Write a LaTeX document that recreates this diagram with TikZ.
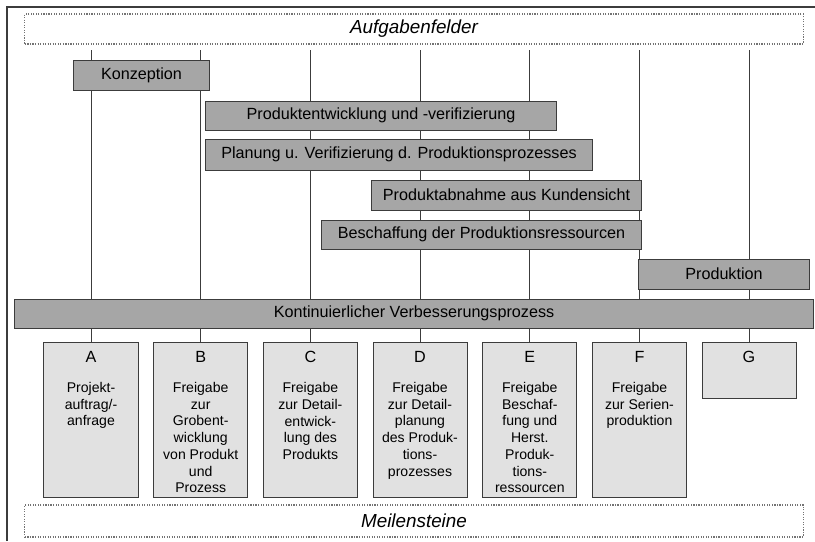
\documentclass[tikz,border=0pt]{standalone}
\usepackage{fontspec}
\setmainfont{Liberation Sans}
\usepackage{tikz}
\usetikzlibrary{positioning}
\definecolor{bargray}{RGB}{166,166,166}
\definecolor{boxgray}{RGB}{225,225,225}
\definecolor{linegray}{RGB}{60,60,60}

\begin{document}
\begin{tikzpicture}[
    x=0.025cm, y=-0.025cm,
    field/.style={rectangle, draw=black!55, densely dotted, line width=0.8pt, minimum width=19.45cm, minimum height=0.75cm, font=\fontsize{13.4}{15}\selectfont\itshape},
    bar/.style={rectangle, draw=linegray, fill=bargray, line width=0.7pt, minimum height=0.75cm, inner sep=0pt, font=\fontsize{11.5}{13}\selectfont},
    milestone/.style={rectangle, draw=linegray, fill=boxgray, line width=0.7pt, minimum width=2.35cm, anchor=north},
    mstext/.style={align=center, inner sep=0pt, font=\fontsize{10}{11.9}\selectfont},
    track/.style={draw=linegray, line width=0.7pt}
]
\useasboundingbox (0,0) rectangle (815,541);

% Frame
\draw[linegray, line width=0.8pt] (7,541) -- (7,7) -- (815,7);

% Milestones
\node[milestone, minimum height=3.875cm] (msA) at (91,342) {};
\node[milestone, minimum height=3.875cm] (msB) at (200.7,342) {};
\node[milestone, minimum height=3.875cm] (msC) at (310.4,342) {};
\node[milestone, minimum height=3.875cm] (msD) at (420,342) {};
\node[milestone, minimum height=3.875cm] (msE) at (529.8,342) {};
\node[milestone, minimum height=3.875cm] (msF) at (639.5,342) {};
\node[milestone, minimum height=1.4cm] (msG) at (749,342) {};

% Tracks
\coordinate (topA) at (91,50);
\coordinate (topB) at (200.7,50);
\coordinate (topC) at (310.4,50);
\coordinate (topD) at (420,50);
\coordinate (topE) at (529.8,50);
\coordinate (topF) at (639.5,50);
\coordinate (topG) at (749,50);
\draw[track] (topA) -- (msA.north);
\draw[track] (topB) -- (msB.north);
\draw[track] (topC) -- (msC.north);
\draw[track] (topD) -- (msD.north);
\draw[track] (topE) -- (msE.north);
\draw[track] (topF) -- (msF.north);
\draw[track] (topG) -- (msG.north);

% Fields
\node[field] (auf) at (414,29) {Aufgabenfelder};
\node[field, minimum height=0.8cm] (mei) at (414,521) {Meilensteine};

% Bars
\node[bar, minimum width=3.375cm] (konz) at (141.5,75) {Konzeption};
\node[bar, minimum width=8.75cm, minimum height=0.725cm] (entw) at (381,115.5) {Produktentwicklung und -verifizierung};
\node[bar, minimum width=9.65cm, minimum height=0.775cm] (plan) at (399,154.5) {Planung u. Verifizierung d. Produktionsprozesses};
\node[bar, minimum width=6.725cm] (abn) at (506.5,195) {Produktabnahme aus Kundensicht};
\node[bar, minimum width=7.975cm, minimum height=0.725cm] (besch) at (481.5,234.5) {Beschaffung der Produktionsressourcen};
\node[bar, minimum width=4.25cm] (prod) at (724,274) {Produktion};
\node[bar, minimum width=19.95cm, minimum height=0.725cm] (kvp) at (414,313.5) {Kontinuierlicher Verbesserungsprozess};

% Milestone texts
\node[mstext, below=6.4pt of msA.north] (txtA) {{\fontsize{11.5}{12}\selectfont A}\\[9.5pt]Projekt-\\auftrag/-\\anfrage};
\node[mstext, below=6.4pt of msB.north] (txtB) {{\fontsize{11.5}{12}\selectfont B}\\[9.5pt]Freigabe\\zur\\Grobent-\\wicklung\\von Produkt\\und\\Prozess};
\node[mstext, below=6.4pt of msC.north] (txtC) {{\fontsize{11.5}{12}\selectfont C}\\[9.5pt]Freigabe\\zur Detail-\\entwick-\\lung des\\Produkts};
\node[mstext, below=6.4pt of msD.north] (txtD) {{\fontsize{11.5}{12}\selectfont D}\\[9.5pt]Freigabe\\zur Detail-\\planung\\des Produk-\\tions-\\prozesses};
\node[mstext, below=6.4pt of msE.north] (txtE) {{\fontsize{11.5}{12}\selectfont E}\\[9.5pt]Freigabe\\Beschaf-\\fung und\\Herst.\\Produk-\\tions-\\ressourcen};
\node[mstext, below=6.4pt of msF.north] (txtF) {{\fontsize{11.5}{12}\selectfont F}\\[9.5pt]Freigabe\\zur Serien-\\produktion};
\node[mstext, below=6.4pt of msG.north] (txtG) {{\fontsize{11.5}{12}\selectfont G}};

\end{tikzpicture}
\end{document}
